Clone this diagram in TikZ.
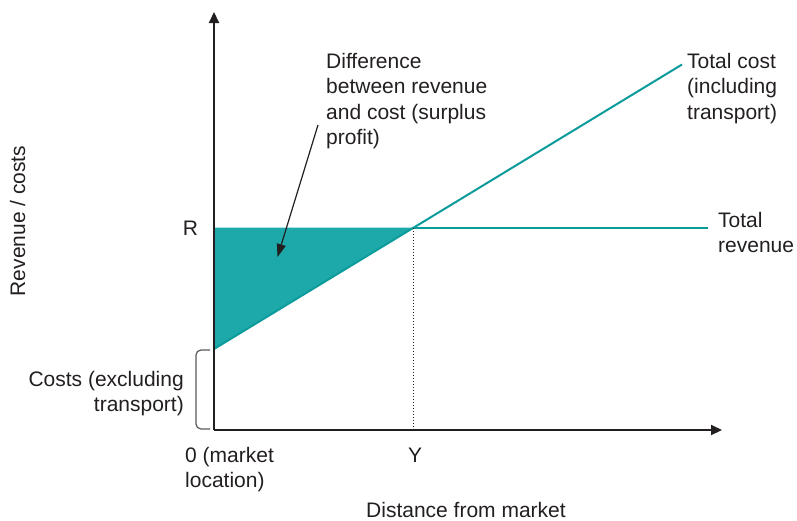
\documentclass[tikz,border=0pt]{standalone}
\usepackage{fontspec}
\setmainfont{Liberation Sans}
\usetikzlibrary{arrows.meta}
\definecolor{ink}{HTML}{231F20}
\definecolor{tealfill}{HTML}{1DA9A9}
\definecolor{tealline}{HTML}{0C9B9B}
\tikzset{
  lbl/.style={inner sep=0pt, text=ink, font=\fontsize{21}{25.6}\selectfont, align=left},
  axisline/.style={draw=ink, line width=2pt, -{Triangle[length=11pt,width=10pt]}},
  curve/.style={draw=tealline, line width=2pt},
  guide/.style={draw=ink, line width=1pt, dotted},
  pointer/.style={draw=ink, line width=1.2pt, -{Triangle[length=13pt,width=9pt]}},
  bracket/.style={draw=ink!75, line width=1.2pt, rounded corners=5pt}
}
\begin{document}
\begin{tikzpicture}[x=1pt,y=-1pt]
\useasboundingbox (0,0) rectangle (797,520);
% key points
\coordinate (O) at (214,430);
\coordinate (ytop) at (214,12);
\coordinate (xend) at (722,430);
\coordinate (R) at (214,227.5);
\coordinate (C0) at (214,349);
\coordinate (P) at (413,227.5);
\coordinate (Yb) at (413,430);
\coordinate (Cend) at (682,64.5);
\coordinate (Rend) at (708,227.5);
% surplus triangle
\fill[tealfill] (R) -- (P) -- (C0) -- cycle;
% lines
\draw[curve] (C0) -- (Cend);
\draw[curve] (P) -- (Rend);
\draw[guide] (P) -- (Yb);
\draw[axisline] (O) -- (ytop);
\draw[axisline] (O) -- (xend);
% bracket for fixed costs
\draw[bracket] (210,350) -- (196,350) -- (196,429) -- (210,429);
% labels (base anchor of a multi-line node is its last line)
\node[lbl, anchor=base west] (diff) at (326,144.8) {Difference\\between revenue\\and cost (surplus\\profit)};
\coordinate (arrstart) at (318,125);
\coordinate (arrtip) at (277.5,257);
\draw[pointer] (arrstart) -- (arrtip);
\node[lbl, anchor=base west] (tc) at (687,119.2) {Total cost\\(including\\transport)};
\node[lbl, anchor=base west] (tr) at (718,252.6) {Total\\revenue};
\node[lbl, anchor=base] (rl) at (190.5,235.5) {R};
\node[lbl, anchor=base east, align=right] (costs) at (184,411.6) {Costs (excluding\\transport)};
\node[lbl, anchor=base west] (zero) at (185,487.6) {0 (market\\location)};
\node[lbl, anchor=base] (yl) at (415,462) {Y};
\node[lbl, anchor=base] (dist) at (466,517) {Distance from market};
\node[lbl, anchor=base, rotate=90] (rev) at (25,221) {Revenue / costs};
\end{tikzpicture}
\end{document}
